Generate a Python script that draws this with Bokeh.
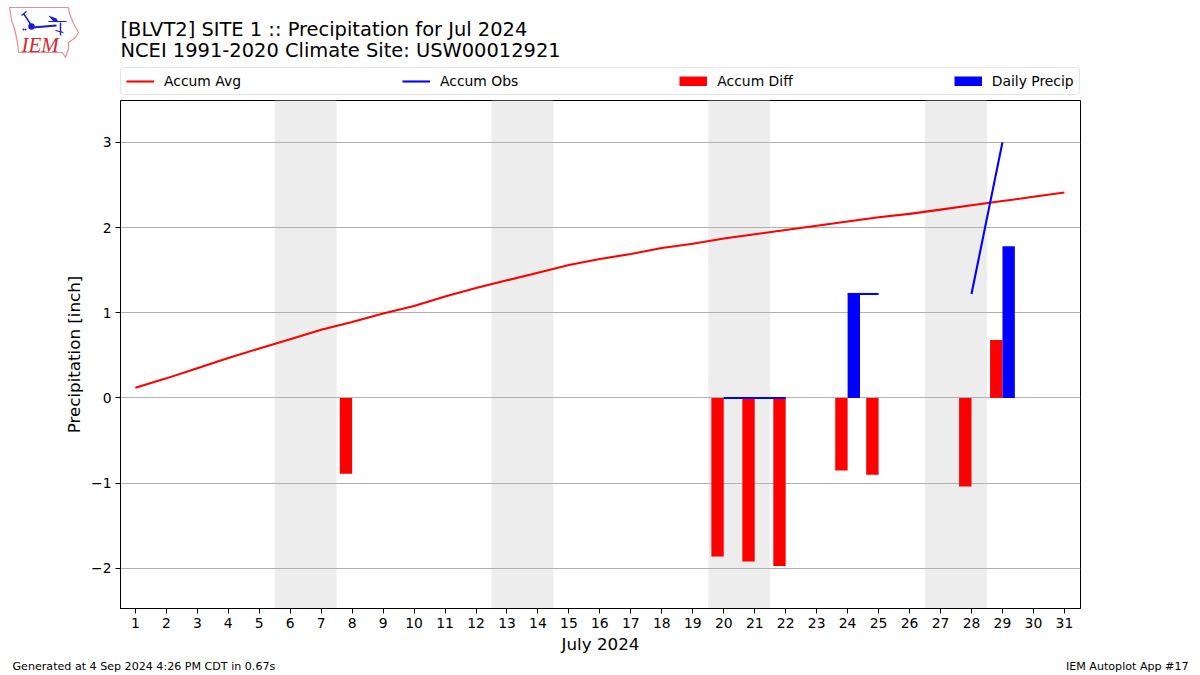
from bokeh.plotting import figure
from bokeh.layouts import column
from bokeh.models import Range1d, FixedTicker, Label, Legend, LegendItem
from bokeh.embed import file_html
from bokeh.resources import INLINE

W = 1192
TOP_H, MAIN_H, FOOT_H = 100, 556, 19
days = list(range(1, 32))
avg = [.12, .23, .35, .47, .58, .69, .80, .89, .99, 1.08, 1.19, 1.29, 1.38, 1.47, 1.56, 1.63,
       1.69, 1.76, 1.81, 1.87, 1.92, 1.97, 2.02, 2.07, 2.12, 2.16, 2.21, 2.26, 2.31, 2.36, 2.41]
obs_segments = [([20, 21, 22], [0, 0, 0]), ([24, 25], [1.22, 1.22]), ([28, 29], [1.22, 3.0])]
diff_days = [8, 20, 21, 22, 24, 25, 28, 29]
diff_vals = [-0.89, -1.86, -1.92, -1.97, -0.85, -0.90, -1.04, 0.68]
precip_days = [24, 29]
precip_vals = [1.22, 1.78]
weekend_left = [5.5, 12.5, 19.5, 26.5]
weekend_right = [7.5, 14.5, 21.5, 28.5]
y_ticks = [-2, -1, 0, 1, 2, 3]
y_labels = {-2: "\u22122", -1: "\u22121", 0: "0", 1: "1", 2: "2", 3: "3"}
title_lines = ["[BLVT2] SITE 1 :: Precipitation for Jul 2024", "NCEI 1991-2020 Climate Site: USW00012921"]
legend_labels = ["Accum Avg", "Accum Obs", "Accum Diff", "Daily Precip"]
footer_left = "Generated at 4 Sep 2024 4:26 PM CDT in 0.67s"
footer_right = "IEM Autoplot App #17"

FONT = "DejaVu Sans"


def blank(height):
    f = figure(width=W, height=height, output_backend="svg", toolbar_location=None,
               x_range=Range1d(0, W), y_range=Range1d(height, 0),
               x_axis_type=None, y_axis_type=None,
               min_border_left=0, min_border_right=0, min_border_top=0, min_border_bottom=0)
    f.outline_line_color = None
    f.xgrid.visible = False
    f.ygrid.visible = False
    f.background_fill_color = "white"
    return f


def text(f, x, y, s, size, color="black", font=FONT, align="left", style="normal"):
    f.add_layout(Label(x=x, y=y, text=s, text_font=font, text_font_size=size, text_color=color,
                       text_align=align, text_baseline="alphabetic", text_font_style=style))


# header: logo, title, legend
top = blank(TOP_H)
text(top, 120, 29, title_lines[0], "19.45px")
text(top, 120, 50, title_lines[1], "19.45px")
top.patch([9, 68, 69, 73, 78, 75, 68, 68, 65, 62, 18, 17, 14, 11],
          [7, 7, 13, 23, 32, 37, 42, 48, 57, 52, 52, 42, 28, 20],
          fill_alpha=0, line_color="#e58f8f", line_width=1.2)
BLUE = "#1a1ad0"
top.line([32, 56], [27, 25], line_color=BLUE, line_width=2)
top.line([23, 31], [13, 25], line_color=BLUE, line_width=1.4)
top.line([21, 26], [15, 11], line_color=BLUE, line_width=1.2)
top.line([48, 66], [21, 21], line_color=BLUE, line_width=1.2)
top.line([60, 60], [22, 35], line_color=BLUE, line_width=1.4)
top.line([55, 63], [30, 32], line_color=BLUE, line_width=1.2)
top.patch([48, 56, 58, 52], [15, 18, 22, 20], fill_color=BLUE, line_color=None)
top.scatter([31], [26], size=6.5, fill_color=BLUE, line_color=None)
top.scatter([23, 25], [29, 29], size=2, fill_color=BLUE, line_color=None)
text(top, 21, 44.5, "IEM", "21px", color="#d02c30", font="Liberation Serif", style="italic")

off_x, off_y = [-10, -5], [-10, -10]
key_avg = top.line(off_x, off_y, line_color="#ff0000", line_width=2.08)
key_obs = top.line(off_x, off_y, line_color="#0000ff", line_width=2.08)
key_diff = top.line(off_x, off_y, line_color="#ff0000", line_width=10)
key_prec = top.line(off_x, off_y, line_color="#0000ff", line_width=10)
legend = Legend(items=[LegendItem(label=l, renderers=[r]) for l, r in
                       zip(legend_labels, [key_avg, key_obs, key_diff, key_prec])],
                orientation="horizontal", location=(120, 5))
legend.label_text_font = FONT
legend.label_text_font_size = "13.9px"
legend.label_text_color = "black"
legend.glyph_width = 28
legend.glyph_height = 10
legend.label_standoff = 10
legend.spacing = 161
legend.padding = 5
legend.margin = 0
legend.border_line_color = "#cccccc"
legend.background_fill_color = "white"
if hasattr(legend, "border_radius"):
    legend.border_radius = 4
top.add_layout(legend, "center")

# main chart
p = figure(width=W, height=MAIN_H, output_backend="svg", toolbar_location=None,
           x_range=Range1d(0.52, 31.52), y_range=Range1d(-2.47, 3.49),
           min_border_left=120, min_border_right=W - 1080, min_border_top=0,
           min_border_bottom=47)
p.background_fill_color = "white"
p.outline_line_color = "black"
p.outline_line_width = 1

p.xgrid.visible = False
p.ygrid.grid_line_color = "#b0b0b0"
p.ygrid.grid_line_width = 1.1
p.ygrid.ticker = FixedTicker(ticks=y_ticks)

for ax, ticks in ((p.xaxis[0], days), (p.yaxis[0], y_ticks)):
    ax.ticker = FixedTicker(ticks=ticks)
    ax.major_tick_out = 5
    ax.major_tick_in = 0
    ax.minor_tick_out = 0
    ax.minor_tick_in = 0
    ax.axis_line_color = "black"
    ax.major_label_text_font = FONT
    ax.major_label_text_font_size = "13.9px"
    ax.major_label_text_color = "black"
    ax.axis_label_text_font = FONT
    ax.axis_label_text_font_size = "16.7px"
    ax.axis_label_text_font_style = "normal"
    ax.axis_label_text_color = "black"
    ax.major_label_standoff = 4
p.xaxis[0].axis_label_standoff = 3
p.yaxis[0].axis_label_standoff = 4
p.xaxis[0].axis_label = "July 2024"
p.yaxis[0].axis_label = "Precipitation [inch]"
p.yaxis[0].major_label_overrides = y_labels

p.quad(left=weekend_left, right=weekend_right, bottom=-2.47, top=3.49,
       fill_color="#ededed", line_color=None, level="image")

diff_x = [d - 0.2 for d in diff_days]
precip_x = [d + 0.2 for d in precip_days]
p.vbar(x=diff_x, top=diff_vals, bottom=0, width=0.4, fill_color="#ff0000", line_color=None)
p.vbar(x=precip_x, top=precip_vals, bottom=0, width=0.4, fill_color="#0000ff", line_color=None)
p.line(days, avg, line_color="#ff0000", line_width=2.08)
for xs, ys in obs_segments:
    p.line(xs, ys, line_color="#0000ff", line_width=2.08)

# footer
foot = blank(FOOT_H)
text(foot, 12, 10, footer_left, "11.1px")
text(foot, 1188, 10, footer_right, "11.1px", align="right")

layout = column(column(top, spacing=0), column(p, spacing=0), column(foot, spacing=0), spacing=0)
open("out.html", "w").write(file_html(layout, INLINE))
